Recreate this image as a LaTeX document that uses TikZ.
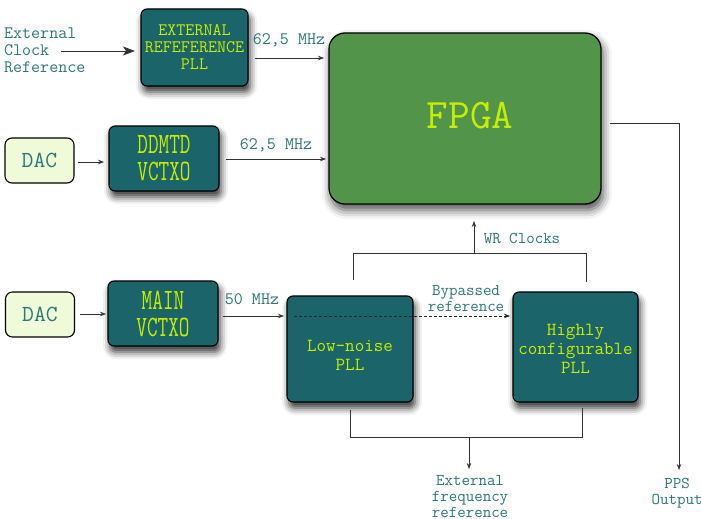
\documentclass[tikz,border=0pt]{standalone}
\usepackage{fontspec}
\usepackage{graphicx}
\usetikzlibrary{arrows.meta,shadows.blur}
\definecolor{boxteal}{HTML}{1B6469}
\definecolor{boxtext}{HTML}{C6EF00}
\definecolor{labteal}{HTML}{2C7878}
\definecolor{fpgagreen}{HTML}{52954A}
\definecolor{dacfill}{HTML}{EEFAD8}
\definecolor{linecol}{HTML}{333333}
\begin{document}
\begin{tikzpicture}[x=1pt,y=-1pt,
  tealbox/.style={draw=black, line width=1.1pt, fill=boxteal, rounded corners=6pt,
    text=boxtext, align=center, inner sep=0pt,
    blur shadow={shadow xshift=2pt, shadow yshift=-6pt, shadow blur radius=7pt, shadow opacity=80, fill=boxteal}},
  dacbox/.style={draw=black, line width=1.1pt, fill=dacfill, rounded corners=7pt,
    text=labteal, inner sep=0pt, minimum width=69pt, minimum height=45pt,
    font=\ttfamily\fontsize{23}{24}\selectfont},
  fpgabox/.style={draw=black, line width=1.3pt, fill=fpgagreen, rounded corners=16pt,
    text=boxtext, inner sep=0pt,
    blur shadow={shadow xshift=2pt, shadow yshift=-6pt, shadow blur radius=9pt, shadow opacity=70, fill=fpgagreen}},
  lab/.style={text=labteal, align=center, inner sep=0pt, font=\ttfamily\fontsize{17.5}{16.5}\selectfont},
  conn/.style={draw=linecol, line width=0.7pt},
  arr/.style={conn, -{Stealth[length=6pt,width=4.5pt]}},
  bigarr/.style={conn, line width=0.9pt, -{Stealth[length=12pt,width=9pt,inset=3pt]}},
  condfont/.style={font=\ttfamily\fontsize{29.5}{27}\selectfont},
  pllfont/.style={font=\ttfamily\fontsize{18.5}{19}\selectfont},
  extfont/.style={font=\ttfamily\fontsize{17.5}{17}\selectfont}
]
\useasboundingbox (0,0) rectangle (701,519);

% boxes
\node[tealbox, extfont, minimum width=107pt, minimum height=77pt] (extpll) at (194.5,47.5)
  {EXTERNAL\\REFEFERENCE\\PLL};
\node[fpgabox, minimum width=272pt, minimum height=171pt, font=\ttfamily\fontsize{42}{44}\selectfont] (fpga) at (465,118.5) {\hspace{10pt}FPGA\rule[-7pt]{0pt}{1pt}};
\node[dacbox] (dac1) at (39.5,160.5) {DAC};
\node[tealbox, condfont, minimum width=110pt, minimum height=65pt] (ddmtd) at (164,158.5)
  {\scalebox{0.7}[1]{DDMTD}\\\scalebox{0.7}[1]{VCTXO}};
\node[dacbox] (dac2) at (40,314.5) {DAC};
\node[tealbox, condfont, minimum width=110pt, minimum height=65pt] (main) at (163,313.5)
  {\scalebox{0.7}[1]{MAIN}\\\scalebox{0.7}[1]{VCTXO}};
\node[tealbox, pllfont, minimum width=126pt, minimum height=106pt] (lnpll) at (350,349)
  {\rule{0pt}{23pt}Low-noise\\PLL};
\node[tealbox, pllfont, minimum width=125pt, minimum height=110pt] (hcpll) at (575.5,347)
  {\rule{0pt}{15pt}Highly\\configurable\\PLL};

% text labels
\node[lab, extfont, align=left, anchor=west] (extclk) at (4,50) {External\\Clock\\Reference};
\node[lab] (l625a) at (289,40) {62,5 MHz};
\node[lab] (l625b) at (276,145) {62,5 MHz};
\node[lab] (l50) at (252,299) {50 MHz};
\node[lab, font=\ttfamily\fontsize{16.5}{15.5}\selectfont] (lbyp) at (466,298.5) {Bypassed\\reference};
\node[lab, font=\ttfamily\fontsize{16.5}{16}\selectfont] (lwr) at (522,238) {WR Clocks};
\node[lab, font=\ttfamily\fontsize{16.5}{16}\selectfont] (lext) at (470,497) {External\\frequency\\reference};
\node[lab, font=\ttfamily\fontsize{16.5}{16}\selectfont] (lpps) at (677,493) {PPS\\Output};

% coordinates
\coordinate (c1) at (61,51);    \coordinate (c1e) at (135,51);
\coordinate (a1s) at (255,58);  \coordinate (a1e) at (324,58);
\coordinate (a2s) at (226,159); \coordinate (a2e) at (326,159);
\coordinate (d1s) at (78,162);  \coordinate (d1e) at (104,162);
\coordinate (d2s) at (80,314);  \coordinate (d2e) at (106,314);
\coordinate (m1s) at (223,316); \coordinate (m1e) at (284,316);
\coordinate (bs) at (294,316);  \coordinate (be) at (510,316);
\coordinate (w1) at (353,280); \coordinate (w2) at (353,253);
\coordinate (w3) at (586,253); \coordinate (w4) at (586,282);
\coordinate (wm) at (474,253); \coordinate (wt) at (474,221);
\coordinate (b1) at (350,410); \coordinate (b2) at (350,437);
\coordinate (b3) at (582,437); \coordinate (b4) at (582,408);
\coordinate (bm) at (469,437); \coordinate (bt) at (469,469);
\coordinate (p1) at (610,123); \coordinate (p2) at (679,123);
\coordinate (p3) at (679,470);

% connectors
\draw[bigarr] (c1) -- (c1e);
\draw[arr] (a1s) -- (a1e);
\draw[arr] (d1s) -- (d1e);
\draw[arr] (a2s) -- (a2e);
\draw[arr] (d2s) -- (d2e);
\draw[arr] (m1s) -- (m1e);
\draw[arr, draw=black!85, dashed, dash pattern=on 3pt off 2pt] (bs) -- (be);
\draw[conn] (w1) -- (w2) -- (w3) -- (w4);
\draw[arr] (wm) -- (wt);
\draw[conn] (b1) -- (b2) -- (b3) -- (b4);
\draw[arr] (bm) -- (bt);
\draw[arr] (p1) -- (p2) -- (p3);
\end{tikzpicture}
\end{document}
